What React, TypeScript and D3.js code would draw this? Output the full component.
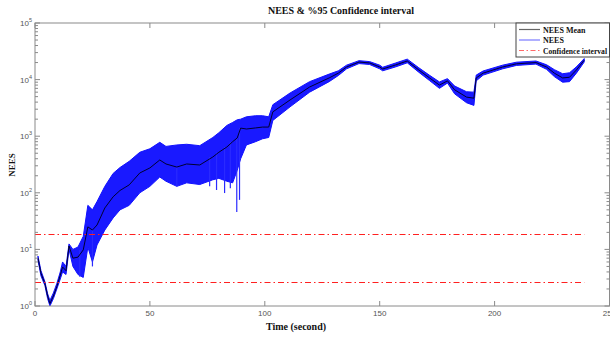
import React from 'react';
import * as d3 from 'd3';

// time samples (s) and NEES
const times = [1.3, 2.6, 4.3, 5.5, 6.5, 8, 9.5, 11, 12, 13.5, 14.8, 16.5, 18.7, 21, 23, 25, 27, 30.4, 34, 37, 41, 45.6, 50, 54.3, 57, 61.7, 66, 71.7, 77.4, 80, 83.5, 86, 88, 89.5, 92, 96, 99, 101.7, 103.5, 111, 119.5, 128, 132, 135.6, 141, 145.6, 150, 151.3, 157, 162, 167, 171.7, 176, 179.5, 182.6, 187.8, 191, 192, 195, 203.5, 209.5, 218, 222.6, 226, 229.6, 232.6, 235.6, 239];
const meanVals = [7, 3.8, 2.5, 1.5, 1.1, 1.5, 2.2, 3.5, 4.9, 4.2, 11.5, 7, 7.3, 9.8, 25, 22, 27, 54, 85, 110, 138, 224, 275, 380, 323, 285, 323, 310, 430, 520, 645, 800, 930, 1390, 1340, 1400, 1450, 1450, 2690, 4370, 7400, 10700, 13000, 16700, 20400, 19700, 16700, 15400, 18200, 21300, 14800, 10700, 8000, 9500, 6600, 4900, 4700, 10700, 13000, 16700, 19000, 20000, 16700, 13000, 10700, 11000, 14800, 22000];
const loVals = [6.4, 3.4, 2.3, 1.35, 1.0, 1.35, 2.0, 3.0, 4.0, 3.6, 10, 5, 3.6, 3.2, 11, 6, 12, 22, 36, 50, 60, 100, 130, 190, 160, 130, 150, 140, 170, 180, 160, 150, 250, 400, 700, 800, 900, 950, 1900, 3300, 6000, 9200, 11800, 15500, 19200, 18500, 15500, 14300, 16800, 19800, 13500, 9600, 7000, 8700, 5600, 3900, 3500, 9500, 12000, 15500, 17800, 18800, 15200, 11300, 9000, 9200, 13000, 20500];
const hiVals = [7.6, 4.2, 2.7, 1.65, 1.25, 1.7, 2.5, 4.0, 6.0, 5.0, 12.5, 10, 11, 17, 60, 50, 70, 130, 220, 280, 360, 520, 600, 780, 660, 700, 720, 680, 950, 1150, 1550, 1750, 1950, 2000, 2200, 2300, 2300, 2200, 3600, 5800, 9200, 12500, 14300, 18000, 21600, 20800, 18000, 16500, 19700, 23000, 16200, 11900, 9100, 10400, 7700, 6100, 6000, 12000, 14200, 18000, 20300, 21300, 18300, 15000, 12700, 13200, 16800, 23500];

// downward spikes of the NEES trace
const spikeTimes = [19.5, 25, 61.7, 76, 79, 82.5, 85, 87.8, 89];
const spikeVals = [3.3, 5, 130, 130, 112, 99, 120, 46, 75];

// 95% chi-square bounds
const confLow = 2.7;
const confHigh = 19.02;
const confT = [0, 239];

const xTicks = [0, 50, 100, 150, 200, 250];
const yExps = [0, 1, 2, 3, 4, 5];

const legendItems = [
  { label: 'NEES Mean', color: '#666666', dash: '' },
  { label: 'NEES', color: '#7a7aff', dash: '' },
  { label: 'Confidence interval', color: '#ff6a6a', dash: '5,2.5,1.5,2.5' },
];

const W = 610;
const H = 337;
const L = 35, R = 609.5, T = 23, B = 306;

export default function App() {
  const x = d3.scaleLinear().domain([0, 250]).range([L, R]);
  const y = d3.scaleLog().domain([1, 1e5]).range([B, T]);

  const pts = times.map((t, i) => ({ t, m: meanVals[i], lo: loVals[i], hi: hiVals[i] }));
  const band = d3.area<any>().x(d => x(d.t)).y0(d => y(d.lo)).y1(d => y(d.hi))(pts) || '';
  const meanLine = d3.line<any>().x(d => x(d.t)).y(d => y(d.m))(pts) || '';
  const serif = '"Liberation Serif", "Times New Roman", serif';
  const sans = '"Liberation Sans", Arial, sans-serif';
  const axisColor = '#8a8a8a';

  const minor: number[] = [];
  yExps.slice(0, -1).forEach(e => { for (let k = 2; k <= 9; k++) minor.push(k * Math.pow(10, e)); });

  return (
    <svg width={W} height={H} style={{ position: 'absolute', left: 0, top: 0, background: '#fff' }}>
      <text x={341} y={14} textAnchor="middle" fontFamily={serif} fontWeight="bold" fontSize={10} fill="#111">
        NEES &amp; %95 Confidence interval
      </text>

      {/* data */}
      <path d={band} fill="#0000ff" fillOpacity={0.9} stroke="#1010ff" strokeWidth={1} />
      {spikeTimes.map((t, i) => {
        const j = d3.bisectLeft(times, t);
        const m = meanVals[Math.min(j, meanVals.length - 1)];
        return <line key={i} x1={x(t)} x2={x(t)} y1={y(m)} y2={y(spikeVals[i])} stroke="#2a2aff" strokeWidth={1.2} />;
      })}
      <path d={meanLine} fill="none" stroke="#000033" strokeWidth={1} />

      {[confLow, confHigh].map((v, i) => (
        <line key={i} x1={x(confT[0])} x2={x(confT[1])} y1={Math.round(y(v)) + 0.5} y2={Math.round(y(v)) + 0.5}
          stroke="#ff2020" strokeWidth={1} strokeDasharray="6,3,1.5,3" />
      ))}

      {/* axes box */}
      <rect x={L} y={T} width={R - L} height={B - T} fill="none" stroke={axisColor} strokeWidth={1} />
      {xTicks.map(t => (
        <g key={t}>
          <line x1={x(t)} x2={x(t)} y1={B} y2={B - 5} stroke={axisColor} />
          <line x1={x(t)} x2={x(t)} y1={T} y2={T + 5} stroke={axisColor} />
          <text x={x(t)} y={316} textAnchor="middle" fontFamily={sans} fontSize={8} fill="#555">{t}</text>
        </g>
      ))}
      {yExps.map(e => (
        <g key={e}>
          <line x1={L} x2={L + 5} y1={y(Math.pow(10, e))} y2={y(Math.pow(10, e))} stroke={axisColor} />
          <line x1={R} x2={R - 5} y1={y(Math.pow(10, e))} y2={y(Math.pow(10, e))} stroke={axisColor} />
          <text x={32} y={y(Math.pow(10, e)) + 3} textAnchor="end" fontFamily={sans} fontSize={8} fill="#555">
            10<tspan dy={-4} fontSize={5.5}>{e}</tspan>
          </text>
        </g>
      ))}
      {minor.map(v => (
        <g key={v}>
          <line x1={L} x2={L + 3} y1={y(v)} y2={y(v)} stroke={axisColor} />
          <line x1={R} x2={R - 3} y1={y(v)} y2={y(v)} stroke={axisColor} />
        </g>
      ))}

      <text x={296} y={330} textAnchor="middle" fontFamily={serif} fontWeight="bold" fontSize={10} fill="#111">
        Time (second)
      </text>
      <text transform="translate(15,165) rotate(-90)" textAnchor="middle" fontFamily={serif} fontWeight="bold" fontSize={9} fill="#111">
        NEES
      </text>

      {/* legend */}
      <rect x={516} y={T} width={R - 516} height={34} fill="#fff" stroke="#444" strokeWidth={1} />
      {legendItems.map((it, i) => (
        <g key={it.label}>
          <line x1={519} x2={540} y1={29.5 + i * 10.5} y2={29.5 + i * 10.5} stroke={it.color} strokeWidth={1.2} strokeDasharray={it.dash} />
          <text x={543} y={32.5 + i * 10.5} fontFamily={serif} fontWeight="bold" fontSize={8}
            textLength={it.label.length > 10 ? 64 : undefined} lengthAdjust="spacingAndGlyphs" fill="#111">{it.label}</text>
        </g>
      ))}
    </svg>
  );
}
